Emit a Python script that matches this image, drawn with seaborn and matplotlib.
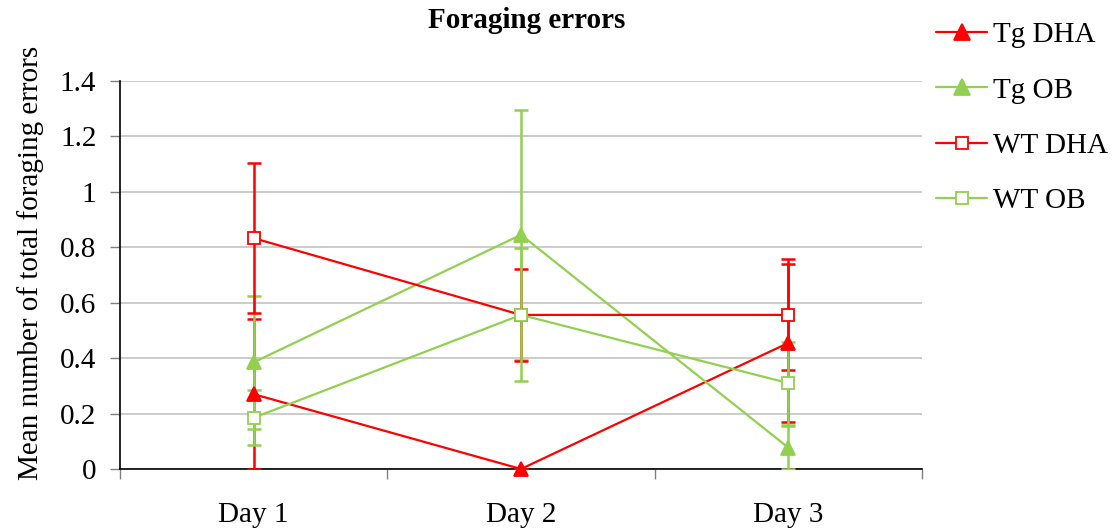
import matplotlib
matplotlib.use("Agg")
import matplotlib.pyplot as plt
from matplotlib.lines import Line2D
import numpy as np
import pandas as pd
import seaborn as sns

days = ["Day 1", "Day 2", "Day 3"]
groups = ["Tg DHA", "Tg OB", "WT DHA", "WT OB"]

tg_dha_mean = [0.27, 0.0, 0.455]
tg_dha_err = [0.27, 0.0, 0.285]
tg_ob_mean = [0.385, 0.845, 0.077]
tg_ob_err = [0.24, 0.45, 0.078]
wt_dha_mean = [0.833, 0.556, 0.556]
wt_dha_err = [0.27, 0.167, 0.2]
wt_ob_mean = [0.185, 0.556, 0.31]
wt_ob_err = [0.10, 0.24, 0.15]

y_ticks = [0, 0.2, 0.4, 0.6, 0.8, 1, 1.2, 1.4]
y_tick_labels = ["0", "0.2", "0.4", "0.6", "0.8", "1", "1.2", "1.4"]

means = [tg_dha_mean, tg_ob_mean, wt_dha_mean, wt_ob_mean]
errs = [tg_dha_err, tg_ob_err, wt_dha_err, wt_ob_err]

RED = "#FF0000"
GREEN = "#92D050"
styles = {
    "Tg DHA": dict(color=RED, marker="^", filled=True),
    "Tg OB": dict(color=GREEN, marker="^", filled=True),
    "WT DHA": dict(color=RED, marker="s", filled=False),
    "WT OB": dict(color=GREEN, marker="s", filled=False),
}

rows = []
for g, m, e in zip(groups, means, errs):
    for i, d in enumerate(days):
        rows.append(dict(group=g, day=d, pos=i, mean=m[i], err=e[i]))
df = pd.DataFrame(rows)

sns.set_theme(style="white")
plt.rcParams["font.family"] = ["Liberation Serif", "DejaVu Serif"]
plt.rcParams["text.color"] = "black"
plt.rcParams["axes.labelcolor"] = "black"
plt.rcParams["xtick.color"] = "black"
plt.rcParams["ytick.color"] = "black"

FS = 21

fig = plt.figure(figsize=(11.14, 5.31), dpi=100)
ax = fig.add_axes([120 / 1114, 1 - 469 / 531, 802 / 1114, 388 / 531])

for g in groups:
    st = styles[g]
    sub = df[df["group"] == g]
    ax.errorbar(sub["pos"], sub["mean"], yerr=sub["err"], fmt="none",
                ecolor=st["color"], elinewidth=1.8, capsize=5, capthick=1.8,
                zorder=3)

for g in groups:
    st = styles[g]
    sub = df[df["group"] == g]
    sns.lineplot(data=sub, x="pos", y="mean", ax=ax, color=st["color"],
                 linewidth=1.6, marker=st["marker"],
                 markersize=10 if st["marker"] == "^" else 9,
                 markerfacecolor=st["color"] if st["filled"] else "white",
                 markeredgecolor=st["color"], markeredgewidth=1.3,
                 legend=False, zorder=4, clip_on=False)

ax.set_xlim(-0.5, 2.5)
ax.set_ylim(0, 1.4)
ax.set_yticks(y_ticks)
ax.set_yticklabels(y_tick_labels)
ax.set_xticks(range(len(days)))
ax.set_xticklabels(days)
ax.set_xticks([-0.5, 0.5, 1.5, 2.5], minor=True)
ax.tick_params(axis="x", which="major", length=0, labelsize=FS, pad=24,
               labelcolor="black")
ax.tick_params(axis="x", which="minor", length=7, width=1, color="#808080",
               direction="out", bottom=True)
ax.tick_params(axis="y", length=7, width=1, color="#808080", direction="out",
               labelsize=FS, pad=10, left=True, labelcolor="black")

ax.yaxis.grid(True, color="#c8c8c8", linewidth=1.3)
ax.xaxis.grid(False)
ax.set_axisbelow(True)
for side in ["top", "right"]:
    ax.spines[side].set_visible(False)
ax.spines["left"].set_color("black")
ax.spines["bottom"].set_color("black")
ax.spines["left"].set_linewidth(1.2)
ax.spines["bottom"].set_linewidth(1.2)

ax.set_xlabel("")
ax.set_ylabel("Mean number of total foraging errors", fontsize=FS,
              labelpad=14, color="black")
ax.yaxis.set_label_coords(-0.095, 0.53)
fig.text(527 / 1114, 1 - 21 / 531, "Foraging errors", fontsize=FS,
         fontweight="bold", ha="center", va="center", color="black")

handles = []
for g in groups:
    st = styles[g]
    handles.append(Line2D([0], [0], color=st["color"], linewidth=1.6,
                          marker=st["marker"],
                          markersize=11 if st["marker"] == "^" else 9,
                          markerfacecolor=st["color"] if st["filled"] else "white",
                          markeredgecolor=st["color"], markeredgewidth=1.3))
leg = fig.legend(handles, groups, loc="upper left",
                 bbox_to_anchor=(936 / 1114, 1 - 22 / 531), frameon=False,
                 fontsize=FS, handlelength=1.75, handletextpad=0.2,
                 labelspacing=0.99, borderaxespad=0, borderpad=0)
for t in leg.get_texts():
    t.set_color("black")

fig.savefig("out.png", dpi=100)
